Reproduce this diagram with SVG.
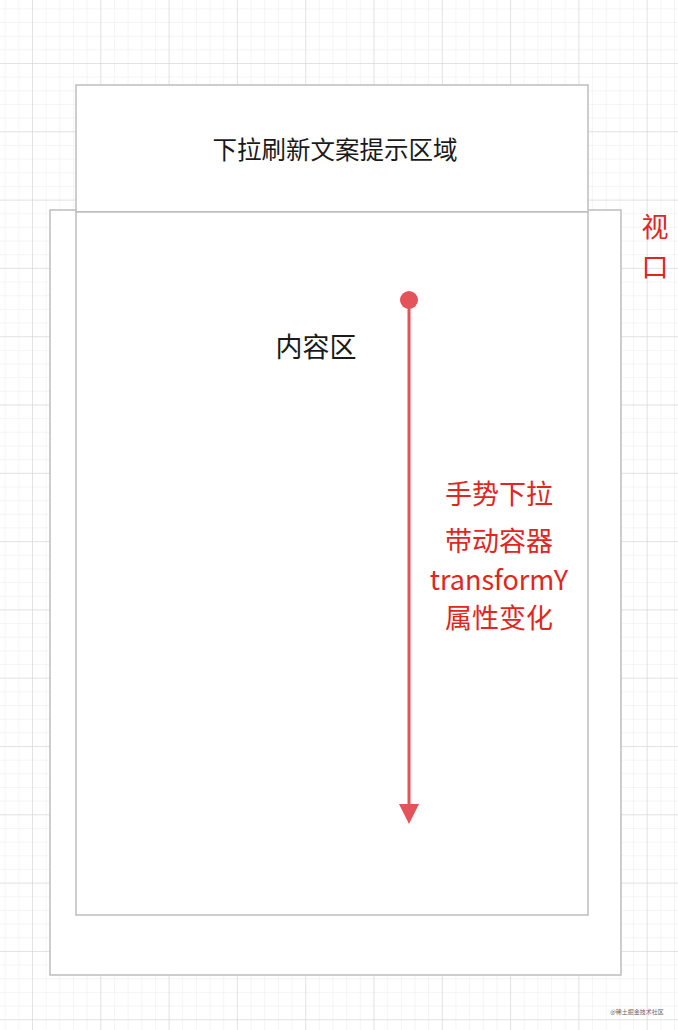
<svg xmlns="http://www.w3.org/2000/svg" width="678" height="1030" viewBox="0 0 678 1030">
  <defs>
    <pattern id="minor" x="32" y="63" width="13.66" height="13.66" patternUnits="userSpaceOnUse">
      <path d="M0 0H13.66M0 0V13.66" fill="none" stroke="#ececec" stroke-width="1"/>
    </pattern>
    <pattern id="major" x="32" y="63" width="68.3" height="68.3" patternUnits="userSpaceOnUse">
      <path d="M0 0H68.3M0 0V68.3" fill="none" stroke="#d2d2d2" stroke-width="1"/>
    </pattern>
    <marker id="arrow" viewBox="0 0 20 20" markerWidth="20" markerHeight="20" refX="0" refY="10" orient="auto" markerUnits="userSpaceOnUse">
      <path d="M0 0L20 10L0 20Z" fill="#e5535a"/>
    </marker>
  </defs>
  <style>
    .box { fill: #ffffff; stroke: #bdbdbd; stroke-width: 1.5; }
    .black { font-family: "Noto Sans CJK SC", "Noto Sans", sans-serif; fill: #1a1a1a; text-anchor: middle; }
    .red { font-family: "Noto Sans CJK SC", "Noto Sans", sans-serif; fill: #e0261f; text-anchor: middle; font-size: 27px; }
  </style>
  <rect width="678" height="1030" fill="#ffffff"/>
  <rect width="678" height="1030" fill="url(#minor)"/>
  <rect width="678" height="1030" fill="url(#major)"/>

  <g id="viewport">
    <rect class="box" x="50" y="210" width="571" height="765"/>
    <text class="red" x="655" y="237" font-size="26">视</text>
    <text class="red" x="655" y="277" font-size="26">口</text>
  </g>
  <g id="refresh-area">
    <rect class="box" x="76" y="85" width="512" height="127"/>
    <text class="black" x="335" y="159" font-size="24.5">下拉刷新文案提示区域</text>
  </g>
  <g id="content-area">
    <rect class="box" x="76" y="212" width="512" height="703"/>
    <text class="black" x="316" y="357" font-size="27">内容区</text>
  </g>
  <g id="connectors">
    <circle cx="409" cy="300" r="9" fill="#e5535a"/>
    <line x1="409" y1="300" x2="409" y2="804" stroke="#e5535a" stroke-width="3" marker-end="url(#arrow)"/>
  </g>
  <g id="gesture-label">
    <text class="red" x="499" y="504">手势下拉</text>
    <text class="red" x="499" y="551">带动容器</text>
    <text class="red" x="499" y="590">transformY</text>
    <text class="red" x="499" y="628">属性变化</text>
  </g>
  <text x="637" y="1014" font-family="Noto Sans CJK SC, sans-serif" font-size="6" fill="#666666" text-anchor="middle">@稀土掘金技术社区</text>
</svg>
